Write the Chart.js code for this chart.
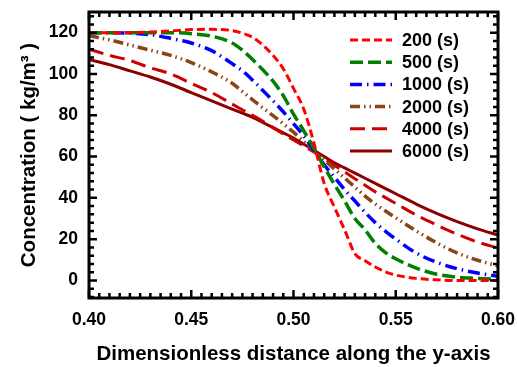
<!DOCTYPE html>
<html>
<head>
<meta charset="utf-8">
<script src="https://cdn.jsdelivr.net/npm/chart.js@4.4.1/dist/chart.umd.min.js"></script>
<style>
  body { margin: 0; background: #fff; }
</style>
</head>
<body>
<canvas id="myChart" width="517" height="367"></canvas>
<script>
// dimensionless y position
const xs = [0.40, 0.41, 0.42, 0.43, 0.44, 0.45, 0.46, 0.47, 0.475, 0.48, 0.485, 0.49, 0.495, 0.50, 0.505,
            0.51, 0.515, 0.52, 0.525, 0.53, 0.535, 0.54, 0.545, 0.55, 0.56, 0.57, 0.58, 0.59, 0.60];

// concentration (kg/m3) at each time
const c200  = [120, 120, 120, 120.3, 120.8, 121.5, 121.6, 121, 119.7, 117.7, 114, 109, 102.5, 93, 83,
               66.5, 47, 35.5, 24.5, 13, 9.5, 6.5, 4.2, 2.6, 1, 0.3, 0, 0, 0];
const c500  = [120, 120, 120, 120, 120, 119.5, 118.3, 115, 111.5, 107, 102, 96.5, 89.5, 80.5, 72.5,
               64, 55, 46.5, 38.5, 30, 24.5, 18, 13.5, 10.5, 6, 3, 1.6, 1, 0.5];
const c1000 = [120, 120, 119.7, 119, 117.2, 115, 111.3, 105, 101.5, 97, 92, 87, 81.7, 76, 70,
               63, 56, 50, 44, 38.5, 33, 28, 23.8, 20, 13.3, 8.8, 5.7, 3.6, 2];
const c2000 = [118.5, 116.5, 114, 111.5, 109, 105.5, 101, 95.5, 91.5, 87.5, 83.6, 79.8, 75.9, 71.8, 67.3,
               62.8, 58.4, 54, 49.6, 45.2, 40.8, 37, 33.6, 30.3, 24, 18.2, 13.3, 9.8, 7];
const c4000 = [112, 109, 106.5, 103, 100, 95.5, 91, 85.4, 82.6, 80, 77.1, 74, 70.9, 68, 65.1,
               62.2, 59, 55.8, 52.6, 49.3, 46.1, 42.9, 40.1, 37.3, 31.7, 26.9, 22.4, 18.6, 15.7];
const c6000 = [107, 104.5, 101.5, 98.5, 95, 91, 87, 83, 81, 79, 76.5, 74, 71.5, 69, 66,
               63, 60, 57, 54.5, 52, 49.5, 47, 44.5, 42, 37, 32.5, 28.5, 25, 22];

const labels = ['200 (s)', '500 (s)', '1000 (s)', '2000 (s)', '4000 (s)', '6000 (s)'];
const xTicks = [0.40, 0.45, 0.50, 0.55, 0.60];
const yTicks = [0, 20, 40, 60, 80, 100, 120];

const pts = arr => xs.map((x, i) => ({x: x, y: arr[i]}));

const FONT = 'Arial, "Liberation Sans", sans-serif';

// box with inward ticks on all sides, plus legend
const frame = {
    id: 'frame',
    afterDraw(chart) {
        const {ctx, chartArea: a, scales: {x, y}} = chart;
        ctx.save();
        ctx.strokeStyle = '#000';
        ctx.setLineDash([]);
        ctx.lineWidth = 2.5;
        ctx.beginPath();
        for (let i = 0; i <= 40; i++) {
            const px = x.getPixelForValue(0.4 + i * 0.005);
            const len = i % 10 === 0 ? 8 : 5;
            ctx.moveTo(px, a.bottom); ctx.lineTo(px, a.bottom - len);
            ctx.moveTo(px, a.top); ctx.lineTo(px, a.top + len);
        }
        for (let v = -8; v <= 128; v += 4) {
            const py = y.getPixelForValue(v);
            const len = v % 20 === 0 ? 8 : 5;
            ctx.moveTo(a.left, py); ctx.lineTo(a.left + len, py);
            ctx.moveTo(a.right, py); ctx.lineTo(a.right - len, py);
        }
        ctx.stroke();
        ctx.lineWidth = 3;
        ctx.strokeRect(a.left, a.top, a.right - a.left, a.bottom - a.top);

        // legend
        ctx.font = 'bold 18px ' + FONT;
        ctx.fillStyle = '#000';
        ctx.textBaseline = 'middle';
        chart.data.datasets.forEach((ds, i) => {
            const yy = 40 + i * 22.2;
            ctx.strokeStyle = ds.borderColor;
            ctx.lineWidth = ds.borderWidth;
            ctx.setLineDash(ds.borderDash || []);
            ctx.beginPath();
            ctx.moveTo(350, yy);
            ctx.lineTo(392, yy);
            ctx.stroke();
            ctx.fillText(ds.label, 402, yy + 1);
        });
        ctx.restore();
    }
};

const ctx = document.getElementById('myChart');

new Chart(ctx, {
    type: 'line',
    data: {
        datasets: [{
            label: labels[0],
            data: pts(c200),
            borderColor: '#ff0000',
            borderWidth: 3,
            borderDash: [8, 4]
        }, {
            label: labels[1],
            data: pts(c500),
            borderColor: '#008000',
            borderWidth: 3.5,
            borderDash: [13, 5]
        }, {
            label: labels[2],
            data: pts(c1000),
            borderColor: '#0000ff',
            borderWidth: 3.5,
            borderDash: [12, 5, 1.5, 5]
        }, {
            label: labels[3],
            data: pts(c2000),
            borderColor: '#8b4513',
            borderWidth: 3.5,
            borderDash: [10, 4, 1.5, 4, 1.5, 4]
        }, {
            label: labels[4],
            data: pts(c4000),
            borderColor: '#cc0000',
            borderWidth: 3,
            borderDash: [15, 7]
        }, {
            label: labels[5],
            data: pts(c6000),
            borderColor: '#8b0000',
            borderWidth: 3
        }]
    },
    options: {
        responsive: false,
        animation: false,
        cubicInterpolationMode: 'monotone',
        pointRadius: 0,
        layout: {
            padding: {top: 12, right: 19, left: 0, bottom: 0}
        },
        plugins: {
            legend: {display: false},
            tooltip: {enabled: false}
        },
        scales: {
            x: {
                type: 'linear',
                min: 0.4,
                max: 0.6,
                grid: {display: false, drawTicks: false},
                border: {display: false},
                afterBuildTicks: s => { s.ticks = xTicks.map(v => ({value: v})); },
                afterFit: s => { s.height = 69; s.paddingLeft = 0; s.paddingRight = 0; },
                ticks: {
                    color: '#000',
                    padding: 12,
                    maxRotation: 0,
                    autoSkip: false,
                    font: {family: FONT, size: 17.5, weight: 'bold'},
                    callback: v => v.toFixed(2)
                },
                title: {
                    display: true,
                    text: 'Dimensionless distance along the y-axis',
                    color: '#000',
                    padding: {top: 0, bottom: 0},
                    font: {family: FONT, size: 20.5, weight: 'bold'}
                }
            },
            y: {
                min: -8.5,
                max: 130,
                grid: {display: false, drawTicks: false},
                border: {display: false},
                afterBuildTicks: s => { s.ticks = yTicks.map(v => ({value: v})); },
                afterFit: s => { s.width = 89; s.paddingTop = 0; s.paddingBottom = 0; },
                ticks: {
                    color: '#000',
                    padding: 11,
                    font: {family: FONT, size: 17.5, weight: 'bold'}
                },
                title: {
                    display: true,
                    text: 'Concentration ( kg/m³ )',
                    color: '#000',
                    padding: {top: 17, bottom: 0},
                    font: {family: FONT, size: 20.5, weight: 'bold'}
                }
            }
        }
    },
    plugins: [frame]
});
</script>
</body>
</html>
